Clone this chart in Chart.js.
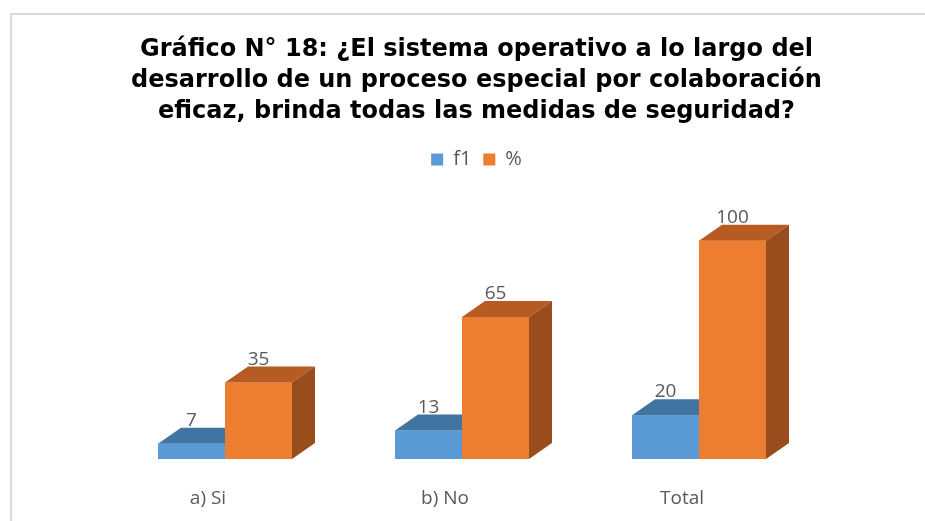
<!DOCTYPE html>
<html>
<head>
<meta charset="utf-8">
<script src="https://cdn.jsdelivr.net/npm/chart.js@4.4.1/dist/chart.umd.min.js"></script>
<style>
  body { margin: 0; background: #fff; }
  canvas { display: block; }
</style>
</head>
<body>
<canvas id="grafico" width="925" height="521"></canvas>
<script>
const categorias = ["a) Si", "b) No", "Total"];
const f1 = [7, 13, 20];
const porcentaje = [35, 65, 100];
const titulo = [
    "Gráfico N° 18: ¿El sistema operativo a lo largo del",
    "desarrollo de un proceso especial por colaboración",
    "eficaz, brinda todas las medidas de seguridad?",
];

// profundidad del efecto 3D
const fondoX = 23;
const fondoY = -16;

const marco = {
    id: "marco",
    beforeDraw(chart) {
        const ctx = chart.ctx;
        ctx.save();
        ctx.fillStyle = "#d9d9d9";
        ctx.fillRect(10, 13, chart.width, 2);
        ctx.fillRect(10, 13, 2, chart.height);
        ctx.restore();
    },
};

const barras3d = {
    id: "barras3d",
    afterDatasetsDraw(chart) {
        const ctx = chart.ctx;
        ctx.save();
        chart.data.datasets.forEach((ds, i) => {
            const meta = chart.getDatasetMeta(i);
            meta.data.forEach((bar) => {
                const { x, y, base, width } = bar.getProps(["x", "y", "base", "width"], true);
                const l = x - width / 2;
                const r = x + width / 2;
                // cara superior
                ctx.fillStyle = ds.colorArriba;
                ctx.beginPath();
                ctx.moveTo(l, y);
                ctx.lineTo(r, y);
                ctx.lineTo(r + fondoX, y + fondoY);
                ctx.lineTo(l + fondoX, y + fondoY);
                ctx.closePath();
                ctx.fill();
                // cara lateral
                ctx.fillStyle = ds.colorLado;
                ctx.beginPath();
                ctx.moveTo(r, y);
                ctx.lineTo(r + fondoX, y + fondoY);
                ctx.lineTo(r + fondoX, base + fondoY);
                ctx.lineTo(r, base);
                ctx.closePath();
                ctx.fill();
                // cara frontal
                ctx.fillStyle = ds.backgroundColor;
                ctx.fillRect(l, y, width, base - y);
            });
        });
        // etiquetas de valores
        ctx.fillStyle = "#595959";
        ctx.font = "19px 'Open Sans'";
        ctx.textAlign = "center";
        ctx.textBaseline = "alphabetic";
        chart.data.datasets.forEach((ds, i) => {
            const meta = chart.getDatasetMeta(i);
            meta.data.forEach((bar, j) => {
                ctx.fillText(String(ds.data[j]), bar.x, bar.y + fondoY - 2);
            });
        });
        ctx.restore();
    },
};

new Chart(document.getElementById("grafico"), {
    type: "bar",
    data: {
        labels: categorias,
        datasets: [
            {
                label: "f1",
                data: f1,
                backgroundColor: "#5b9bd5",
                colorArriba: "#4274a2",
                colorLado: "#3c6a95",
                borderWidth: 0,
            },
            {
                label: "%",
                data: porcentaje,
                backgroundColor: "#ed7d31",
                colorArriba: "#b65c22",
                colorLado: "#994c1c",
                borderWidth: 0,
            },
        ],
    },
    options: {
        responsive: false,
        animation: false,
        devicePixelRatio: 1,
        categoryPercentage: 0.5654,
        barPercentage: 1.0,
        layout: {
            padding: { top: 0, left: 28, right: 0, bottom: 0 },
        },
        scales: {
            x: {
                grid: { display: false },
                border: { display: false },
                ticks: {
                    color: "#595959",
                    font: { family: "'Open Sans'", size: 19 },
                    padding: 20,
                    labelOffset: -17,
                },
                afterFit(scale) {
                    scale.height = 62;
                },
            },
            y: {
                min: 0,
                max: 128,
                grid: { display: false },
                border: { display: false },
                ticks: { display: false },
                afterFit(scale) {
                    scale.width = 78.5;
                },
            },
            y2: {
                position: "right",
                min: 0,
                max: 128,
                grid: { display: false },
                border: { display: false },
                ticks: { display: false },
                afterFit(scale) {
                    scale.width = 107.5;
                },
            },
        },
        plugins: {
            title: {
                display: true,
                text: titulo,
                color: "#000000",
                font: { family: "'DejaVu Sans'", size: 24, weight: "bold", lineHeight: 1.3 },
                padding: { top: 34, bottom: 10 },
            },
            legend: {
                labels: {
                    color: "#595959",
                    font: { family: "'Open Sans'", size: 20 },
                    boxWidth: 12,
                    boxHeight: 12,
                    padding: 12,
                },
            },
            tooltip: { enabled: false },
        },
    },
    plugins: [marco, barras3d],
});
</script>
</body>
</html>
